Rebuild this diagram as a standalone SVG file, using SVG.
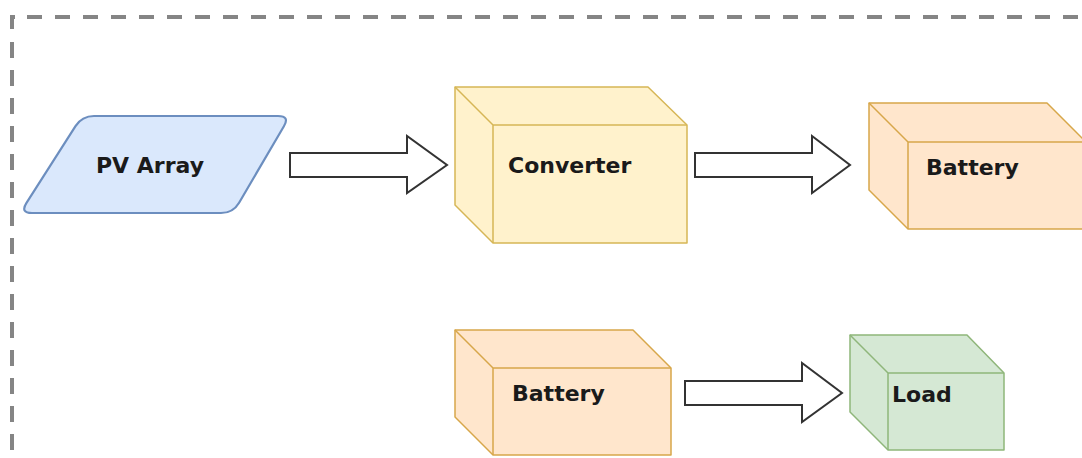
<svg xmlns="http://www.w3.org/2000/svg" width="1082" height="458" viewBox="0 0 1082 458">
<style>
.lbl{font-family:"DejaVu Sans","Liberation Sans",sans-serif;font-weight:bold;font-size:22px;fill:#1a1a1a}
.border{fill:none;stroke:#858585;stroke-width:4}
.arrow{fill:#ffffff;stroke:#333333;stroke-width:2;stroke-linejoin:miter}
.yellow{fill:#fff2cc;stroke:#d6b656;stroke-width:1.5;stroke-linejoin:round}
.orange{fill:#ffe6cc;stroke:#d7a74a;stroke-width:1.5;stroke-linejoin:round}
.green{fill:#d5e8d4;stroke:#8fb67a;stroke-width:1.5;stroke-linejoin:round}
.blue{fill:#dae8fc;stroke:#6c8ebf;stroke-width:2.2}
.edge{fill:none}
</style>
<rect width="1082" height="458" fill="#ffffff"/>
<g id="border">
<path class="border" d="M12,29 V17 H15"/>
<line class="border" x1="27" y1="17" x2="1082" y2="17" stroke-dasharray="15 13"/>
<line class="border" x1="12" y1="42" x2="12" y2="458" stroke-dasharray="16 12"/>
</g>
<g id="connectors">
<path class="arrow" d="M290,153 H407 V136 L447,165 L407,193 V177 H290 Z"/>
<path class="arrow" d="M695,153 H812 V136 L850,165 L812,193 V177 H695 Z"/>
<path class="arrow" d="M685,381 H802 V363 L842,393 L802,422 V405 H685 Z"/>
</g>
<g id="pv-array">
<path class="blue" d="M94,116 H278 Q290,116 283.9,126.3 L239.1,202.7 Q233,213 221,213 H32 Q20,213 26.5,202.9 L75.5,126.1 Q82,116 94,116 Z"/>
<text class="lbl" x="96" y="173">PV Array</text>
</g>
<g id="converter">
<path class="yellow" d="M455,87 H648 L687,125 V243 H493 L455,205 Z"/>
<path class="yellow edge" d="M455,87 L493,125 H687 M493,125 V243"/>
<text class="lbl" x="508" y="173">Converter</text>
</g>
<g id="battery-1">
<path class="orange" d="M869,103 H1047 L1086,142 V229 H908 L869,190 Z"/>
<path class="orange edge" d="M869,103 L908,142 H1086 M908,142 V229"/>
<text class="lbl" x="926" y="175">Battery</text>
</g>
<g id="battery-2">
<path class="orange" d="M455,330 H633 L671,368 V455 H493 L455,417 Z"/>
<path class="orange edge" d="M455,330 L493,368 H671 M493,368 V455"/>
<text class="lbl" x="512" y="401">Battery</text>
</g>
<g id="load">
<path class="green" d="M850,335 H967 L1004,373 V450 H888 L850,412 Z"/>
<path class="green edge" d="M850,335 L888,373 H1004 M888,373 V450"/>
<text class="lbl" x="892" y="402">Load</text>
</g>
</svg>
